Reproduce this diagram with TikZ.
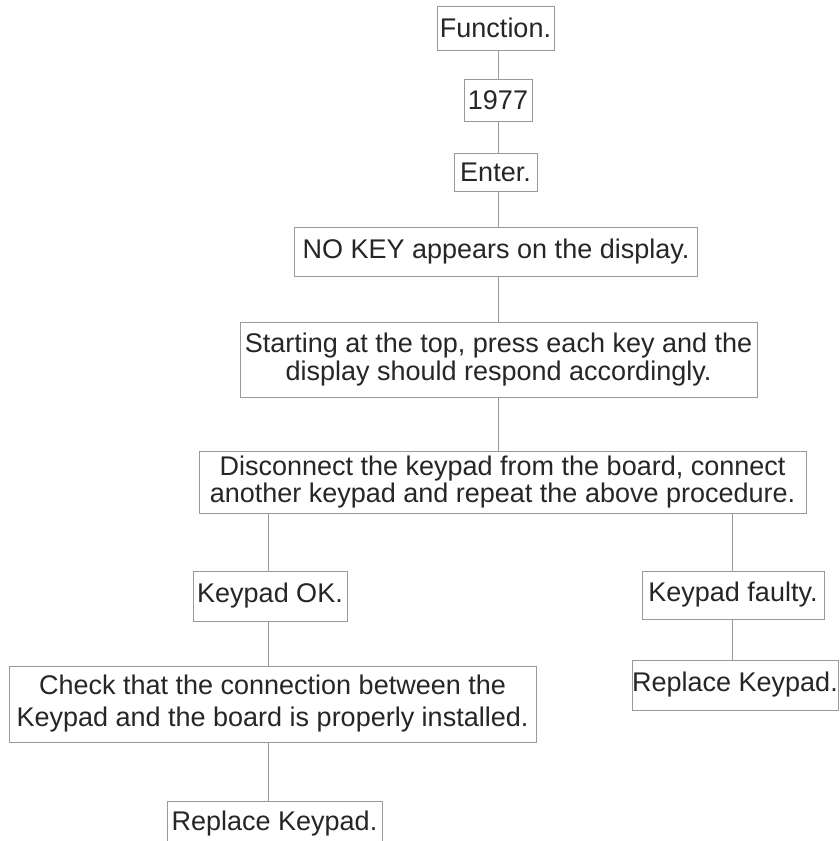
\documentclass[tikz,border=0pt]{standalone}
\usepackage{fontspec}
\setmainfont{Liberation Sans}
\definecolor{txt}{HTML}{262626}
\definecolor{edge}{HTML}{9A9A9A}
\begin{document}
\begin{tikzpicture}[x=1pt,y=-1pt,
  box/.style={draw=edge,line width=1pt,inner sep=0pt,text=txt,align=center,
    font=\fontsize{27}{28}\selectfont},
  link/.style={draw=edge,line width=1pt}]
\useasboundingbox[fill=white] (0,0) rectangle (840,841);
\node[box,minimum width=117,minimum height=44] (fn) at (495.5,28) {Function.};
\node[box,minimum width=68,minimum height=42] (n1977) at (498,100) {1977};
\node[box,minimum width=83,minimum height=38] (enter) at (495.5,172) {Enter.};
\node[box,minimum width=403,minimum height=49] (nokey) at (496,251.5) {NO KEY appears on the display.};
\node[box,minimum width=517,minimum height=75] (start) at (498.5,359.5) {Starting at the top, press each key and the\\display should respond accordingly.};
\node[box,minimum width=607,minimum height=62,font=\fontsize{27}{25}\selectfont] (disc) at (502.5,482) {Disconnect the keypad from the board, connect\\another keypad and repeat the above procedure.};
\node[box,minimum width=154,minimum height=50] (ok) at (270,596) {Keypad OK.};
\node[box,minimum width=182,minimum height=48] (faulty) at (733,595) {Keypad faulty.};
\node[box,minimum width=527,minimum height=76,font=\fontsize{27}{32}\selectfont] (check) at (272.5,704) {Check that the connection between the\\Keypad and the board is properly installed.};
\node[box,minimum width=206,minimum height=50] (repR) at (735,685) {Replace Keypad.};
\node[draw=edge,line width=1pt,minimum width=215,minimum height=47,inner sep=0pt] (repL) at (274.5,824.5) {};
\node[text=txt,font=\fontsize{27}{28}\selectfont,inner sep=0pt,anchor=base] (repLt) at (274.5,830) {Replace Keypad.};
\coordinate (spine) at (498,0);
\coordinate (lft) at (268.5,0);
\coordinate (rgt) at (732,0);
\draw[link] (fn.south -| spine) -- (n1977.north -| spine);
\draw[link] (n1977.south -| spine) -- (enter.north -| spine);
\draw[link] (enter.south -| spine) -- (nokey.north -| spine);
\draw[link] (nokey.south -| spine) -- (start.north -| spine);
\draw[link] (start.south -| spine) -- (disc.north -| spine);
\draw[link] (disc.south -| lft) -- (ok.north -| lft);
\draw[link] (ok.south -| lft) -- (check.north -| lft);
\draw[link] (check.south -| lft) -- (repL.north -| lft);
\draw[link] (disc.south -| rgt) -- (faulty.north -| rgt);
\draw[link] (faulty.south -| rgt) -- (repR.north -| rgt);
\end{tikzpicture}
\end{document}
